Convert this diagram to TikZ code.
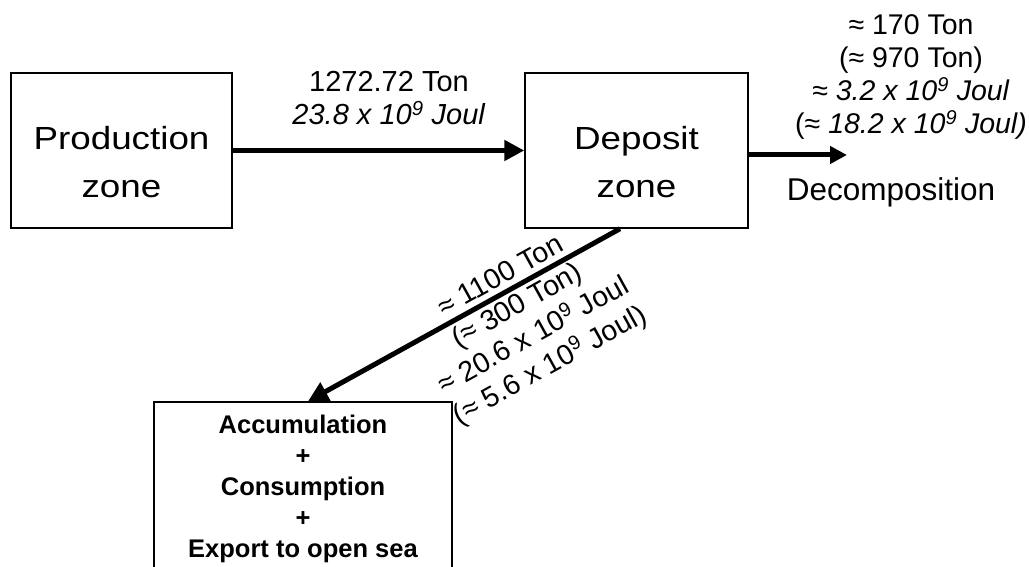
\documentclass[tikz,border=0pt]{standalone}
\usepackage{fontspec}
\setmainfont{Liberation Sans}
\newfontfamily\zonefont[FakeStretch=1.15]{Liberation Sans}
\usetikzlibrary{arrows.meta}

\begin{document}
\begin{tikzpicture}[x=1pt,y=1pt,
  zonebox/.style={draw,line width=1.5pt,align=center,inner sep=0pt},
  zonetext/.style={font=\fontsize{32}{48}\zonefont,align=center},
  flow/.style={-{Triangle[length=20pt,width=20pt]},line width=5pt},
  lbl/.style={font=\fontsize{28.5}{34}\selectfont,align=center}]
\useasboundingbox (0,0) rectangle (1029,567);
% Zones
\node[zonebox,minimum width=221pt,minimum height=155pt] (prod) at (121.5,416.5) {};
\node[zonebox,minimum width=223pt,minimum height=155pt] (dep) at (636.5,416.5) {};
\node[zonetext] (prodtxt) at ([yshift=-12pt]prod.center) {Production\\zone};
\node[zonetext] (deptxt) at ([yshift=-12pt]dep.center) {Deposit\\zone};
\node[zonebox,minimum width=298pt,minimum height=174pt,font=\fontsize{25.5}{31}\selectfont\bfseries] (acc) at (303,78) {Accumulation\\+\\Consumption\\+\\Export to open sea};
\node[font=\fontsize{31.5}{36}\selectfont] (decomp) at (891,375) {Decomposition};
\coordinate (decend) at (847,412);
% Flows
\draw[flow] (prod) -- (dep);
\draw[flow,-{Triangle[length=17pt,width=17pt]}] (dep.east |- decend) -- (decend);
\draw[flow] ([xshift=-16.5pt]dep.south) -- ([xshift=5pt]acc.north);
% Amounts
\node[lbl,font=\fontsize{29}{33}\selectfont] (prodlbl) at (389,469) {1272.72 Ton\\\textit{23.8 x 10\textsuperscript{9} Joul}};
\node[lbl,font=\fontsize{28.5}{33}\selectfont] (decomplbl) at (911,490) {≈ 170 Ton\\(≈ 970 Ton)\\≈ \textit{3.2 x 10\textsuperscript{9} Joul}\\(≈ \textit{18.2 x 10\textsuperscript{9} Joul)}};
\node[lbl,rotate=29] (acclbl) at (526,245) {≈ 1100 Ton\\(≈ 300 Ton)\\≈ 20.6 x 10\textsuperscript{9} Joul\\(≈ 5.6 x 10\textsuperscript{9} Joul)};
\end{tikzpicture}
\end{document}
